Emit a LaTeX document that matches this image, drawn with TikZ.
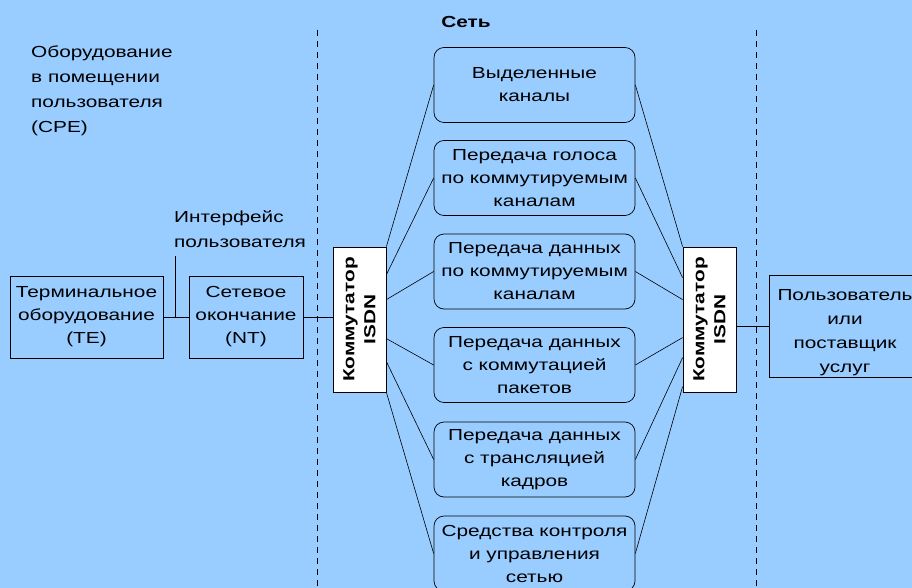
\documentclass[tikz,border=0pt]{standalone}
\usepackage{fontspec}
\setmainfont{Liberation Sans}[FakeStretch=1.3]
\definecolor{bgblue}{RGB}{153,204,255}
\tikzset{
  plainbox/.style={draw, line width=0.8pt, align=center, inner sep=0pt},
  netbox/.style={draw, line width=0.7pt, rounded corners=10pt, minimum width=201pt, minimum height=75pt, align=center, inner sep=0pt},
  switchbox/.style={draw, line width=0.8pt, fill=white, minimum width=53pt, minimum height=145pt, inner sep=0pt},
  link/.style={line width=0.6pt},
  sepline/.style={line width=0.7pt, dash pattern=on 6pt off 5pt},
  label/.style={align=left, inner sep=0pt}
}
\begin{document}
\begin{tikzpicture}[x=1pt,y=-1pt,font=\fontsize{16}{23}\selectfont]
\useasboundingbox (0,0) rectangle (912,588);
\fill[bgblue] (0,0) rectangle (912,588);
\clip (0,0) rectangle (912,588);

% separators
\coordinate (s1t) at (317,30);
\coordinate (s1b) at (317,588);
\coordinate (s2t) at (756,30);
\coordinate (s2b) at (756,588);
\draw[sepline] (s1t) -- (s1b);
\draw[sepline] (s2t) -- (s2b);

% labels
\node[label, anchor=north west, font=\fontsize{16}{25}\selectfont] (cpe) at (31,46) {Оборудование\\в помещении\\пользователя\\(CPE)};
\node[label, anchor=north west, font=\fontsize{16}{25}\selectfont] (ifl) at (174,210) {Интерфейс\\пользователя};
\node[font=\bfseries\fontsize{16}{23}\selectfont, inner sep=0pt] (net) at (466,22) {Сеть};

% left side boxes
\node[plainbox, minimum width=153pt, minimum height=82pt] (te) at (86.5,317) {Терминальное\\оборудование\\(TE)};
\node[plainbox, minimum width=114pt, minimum height=82pt] (nt) at (246,317) {Сетевое\\окончание\\(NT)};

% switches
\node[switchbox] (swl) at (359.5,319.5) {};
\node[rotate=90, align=center, font=\bfseries\fontsize{16}{21}\selectfont, inner sep=0pt] (swlt) at (swl) {Коммутатор\\ISDN};
\node[switchbox] (swr) at (709.5,319.5) {};
\node[rotate=90, align=center, font=\bfseries\fontsize{16}{21}\selectfont, inner sep=0pt] (swrt) at (swr) {Коммутатор\\ISDN};

% user box
\node[plainbox, minimum width=152pt, minimum height=102pt] (usr) at (845,326) {};
\node[align=center, inner sep=0pt, font=\fontsize{16}{24}\selectfont] (usrt) at (845,333) {Пользователь\\или\\поставщик\\услуг};

% network boxes
\node[netbox] (n1) at (534.5,85) {Выделенные\\каналы};
\node[netbox] (n2) at (534.5,178) {Передача голоса\\по коммутируемым\\каналам};
\node[netbox] (n3) at (534.5,271.5) {Передача данных\\по коммутируемым\\каналам};
\node[netbox] (n4) at (534.5,365) {Передача данных\\с коммутацией\\пакетов};
\node[netbox] (n5) at (534.5,459.5) {Передача данных\\с трансляцией\\кадров};
\node[netbox] (n6) at (534.5,553.5) {Средства контроля\\и управления\\сетью};

% connectors left part
\coordinate (ifc) at (175,256);
\draw[link] (te.east) -- (nt.west);
\draw[link] (ifc) -- (ifc |- te.east);
\draw[link] (nt.east) -- (nt.east -| swl.west);
\draw[link] (swr.east |- usr.west) -- (usr.west);

% fan-out left
\draw[link] (swl.north east) -- (n1.west);
\draw[link] ([yshift=-28pt]swl.north east) -- (n2.west);
\draw[link] ([yshift=-53pt]swl.north east) -- (n3.west);
\draw[link] ([yshift=-92pt]swl.north east) -- (n4.west);
\draw[link] ([yshift=-115pt]swl.north east) -- (n5.west);
\draw[link] (swl.south east) -- (n6.west);

% fan-in right
\draw[link] (n1.east) -- (swr.north west);
\draw[link] (n2.east) -- ([yshift=-31pt]swr.north west);
\draw[link] (n3.east) -- ([yshift=-53pt]swr.north west);
\draw[link] (n4.east) -- ([yshift=-91pt]swr.north west);
\draw[link] (n5.east) -- ([yshift=-111pt]swr.north west);
\draw[link] (n6.east) -- ([yshift=-140pt]swr.north west);
\end{tikzpicture}
\end{document}
